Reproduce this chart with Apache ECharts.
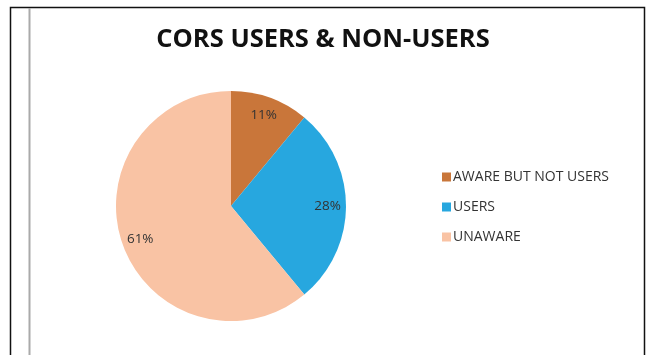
<!DOCTYPE html>
<html>
<head>
<meta charset="utf-8">
<script src="https://cdn.jsdelivr.net/npm/echarts@6/dist/echarts.min.js"></script>
<style>
  html, body { margin: 0; padding: 0; background: #fff; }
  #chart { width: 654px; height: 355px; }
</style>
</head>
<body>
<div id="chart"></div>
<script>
// 分类和数值
var categories = ['AWARE BUT NOT USERS', 'USERS', 'UNAWARE']
var values = [11, 28, 61]
var colors = ['#C9763A', '#27A7DF', '#F9C3A4']

var chart = echarts.init(document.getElementById('chart'))

var pieData = categories.map(function (name, i) {
  return { name: name, value: values[i], itemStyle: { color: colors[i] } }
})

chart.setOption({
  animation: false,
  // 标题
  title: {
    text: 'CORS USERS & NON-USERS',
    left: 318,
    top: 22,
    textAlign: 'center',
    textStyle: {
      fontFamily: 'Open Sans',
      fontWeight: 'bold',
      fontSize: 25.5,
      color: '#111'
    }
  },
  // 图例
  legend: {
    orient: 'vertical',
    left: 437,
    top: 165,
    itemWidth: 9,
    itemHeight: 9,
    itemGap: 16,
    icon: 'rect',
    data: categories,
    textStyle: {
      fontFamily: 'Open Sans',
      fontSize: 14,
      color: '#333',
      padding: [0, 0, 0, -3]
    }
  },
  // 外框
  graphic: [
    {
      type: 'rect',
      shape: { x: 10.5, y: 7.5, width: 634, height: 360 },
      style: { fill: 'none', stroke: '#111', lineWidth: 1.5 }
    },
    {
      type: 'line',
      shape: { x1: 29.5, y1: 8, x2: 29.5, y2: 355 },
      style: { stroke: '#aaa', lineWidth: 2 }
    }
  ],
  series: [
    {
      type: 'pie',
      center: [231, 206],
      radius: [0, 115],
      startAngle: 90,
      clockwise: true,
      silent: true,
      label: { show: false },
      labelLine: { show: false },
      data: pieData
    },
    {
      // 透明层，用于放置百分比标签
      type: 'pie',
      center: [231, 206],
      radius: [72, 115],
      startAngle: 90,
      clockwise: true,
      silent: true,
      itemStyle: { color: 'rgba(0,0,0,0)' },
      label: {
        show: true,
        position: 'inside',
        formatter: '{c}%',
        fontFamily: 'Open Sans',
        fontSize: 13.5,
        color: '#333'
      },
      labelLine: { show: false },
      data: categories.map(function (name, i) {
        return { name: name, value: values[i] }
      })
    }
  ]
})
</script>
</body>
</html>
